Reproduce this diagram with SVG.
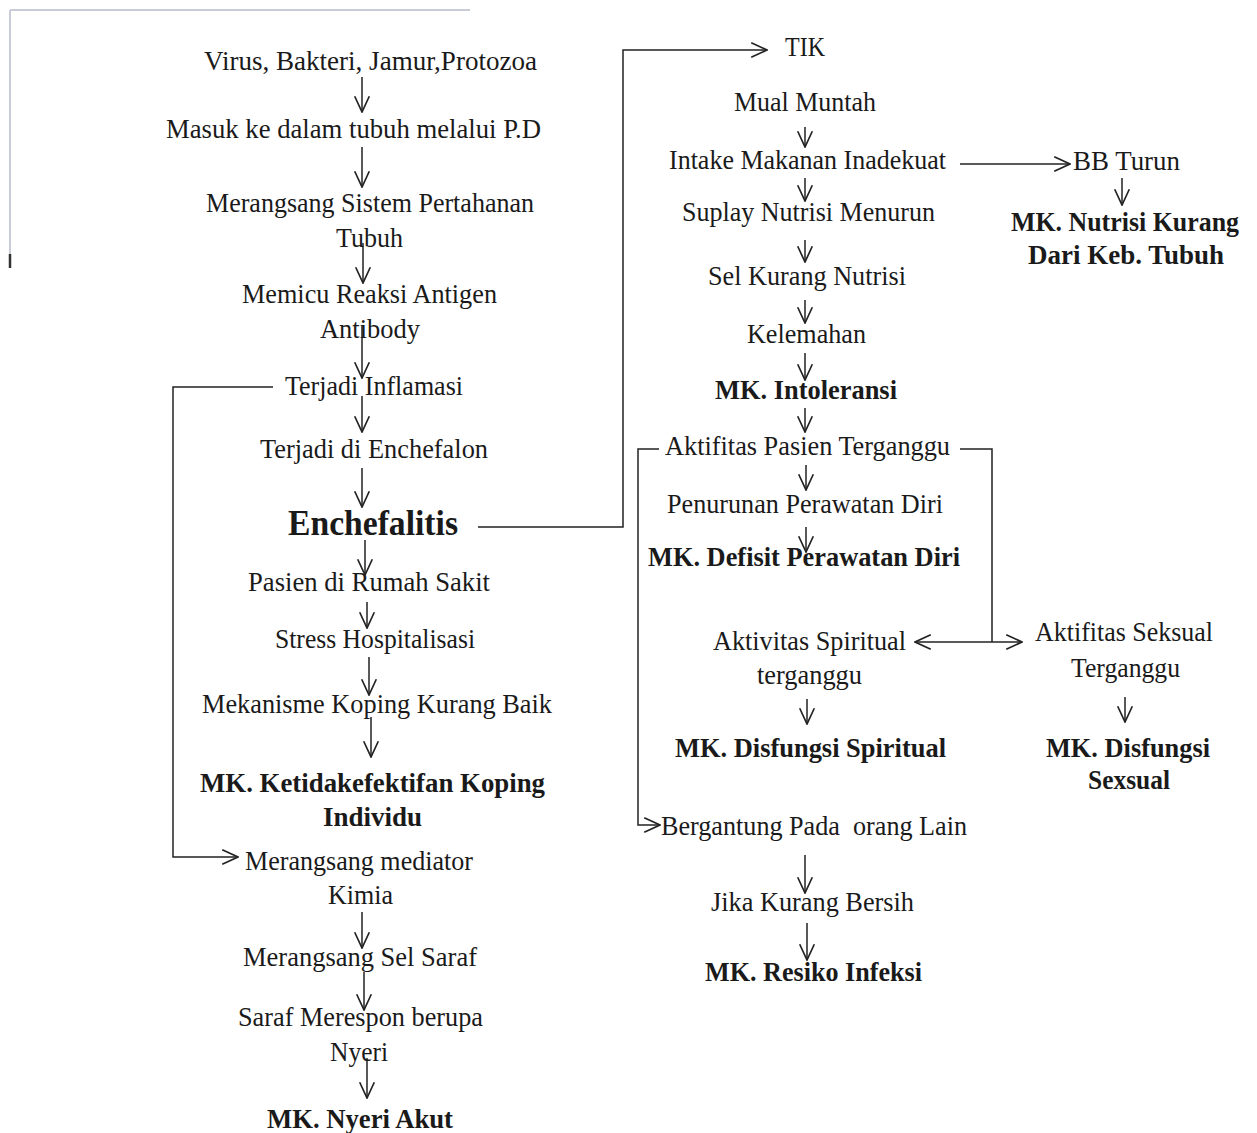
<svg xmlns="http://www.w3.org/2000/svg" width="1257" height="1133" viewBox="0 0 1257 1133">
<defs>
<style>
text{font-family:"Liberation Serif","Times New Roman",serif;font-size:28px;fill:#1a1a1a}
text.b{font-weight:bold;font-size:28px}
text.big{font-weight:bold;font-size:35px}
.c{fill:none;stroke:#222;stroke-width:1.5}
.a{marker-end:url(#ah)}
.d{marker-start:url(#ah);marker-end:url(#ah)}
.frame{fill:none;stroke:#c9ccd8;stroke-width:2}
</style>
<marker id="ah" markerUnits="userSpaceOnUse" markerWidth="18" markerHeight="18" viewBox="0 0 16 16" refX="15" refY="8" orient="auto-start-reverse">
<path d="M1,1.5 L15,8 L1,14.5" fill="none" stroke="#222" stroke-width="1.5"/>
</marker>
</defs>
<rect width="1257" height="1133" fill="#ffffff"/>
<g id="frame">
<path class="frame" d="M10,10 H470 M10,10 V262"/>
<path d="M10,254 V268" stroke="#333" stroke-width="2.5"/>
</g>
<g id="connectors">
<path class="c a" d="M362,77 V112"/>
<path class="c a" d="M362,147 V187"/>
<path class="c a" d="M363,243 V283"/>
<path class="c a" d="M362,326 V378"/>
<path class="c a" d="M362,396 V432"/>
<path class="c a" d="M362,468 V507"/>
<path class="c a" d="M365,540 V575"/>
<path class="c a" d="M367,602 V628"/>
<path class="c a" d="M369,657 V695"/>
<path class="c a" d="M371,717 V757"/>
<path class="c a" d="M273,387 H173 V857 H238"/>
<path class="c a" d="M362,912 V948"/>
<path class="c a" d="M364,972 V1010"/>
<path class="c a" d="M367,1058 V1098"/>
<path class="c a" d="M478,527 H623 V50 H767"/>
<path class="c a" d="M805,127 V147"/>
<path class="c a" d="M805,178 V201"/>
<path class="c a" d="M805,240 V262"/>
<path class="c a" d="M805,300 V323"/>
<path class="c a" d="M805,353 V380"/>
<path class="c a" d="M805,408 V432"/>
<path class="c a" d="M806,465 V490"/>
<path class="c a" d="M806,527 V552"/>
<path class="c a" d="M960,164 H1070"/>
<path class="c a" d="M1122,178 V205"/>
<path class="c a" d="M659,449 H638 V825 H660"/>
<path class="c" d="M960,449 H992 V642"/>
<path class="c d" d="M915,642 H1022"/>
<path class="c a" d="M807,699 V724"/>
<path class="c a" d="M1125,697 V722"/>
<path class="c a" d="M805,855 V893"/>
<path class="c a" d="M807,923 V960"/>
</g>
<g id="n-virus"><text x="204" y="70" textLength="333" lengthAdjust="spacingAndGlyphs">Virus, Bakteri, Jamur,Protozoa</text></g>
<g id="n-masuk"><text x="166" y="138" textLength="375" lengthAdjust="spacingAndGlyphs">Masuk ke dalam tubuh melalui P.D</text></g>
<g id="n-merangsang-sistem"><text x="206" y="212" textLength="328" lengthAdjust="spacingAndGlyphs">Merangsang Sistem Pertahanan</text><text x="336" y="247" textLength="67" lengthAdjust="spacingAndGlyphs">Tubuh</text></g>
<g id="n-memicu"><text x="242" y="303" textLength="255" lengthAdjust="spacingAndGlyphs">Memicu Reaksi Antigen</text><text x="320" y="338" textLength="100" lengthAdjust="spacingAndGlyphs">Antibody</text></g>
<g id="n-inflamasi"><text x="285" y="395" textLength="178" lengthAdjust="spacingAndGlyphs">Terjadi Inflamasi</text></g>
<g id="n-enchefalon"><text x="260" y="458" textLength="228" lengthAdjust="spacingAndGlyphs">Terjadi di Enchefalon</text></g>
<g id="n-enchefalitis"><text class="big" x="288" y="535" textLength="170" lengthAdjust="spacingAndGlyphs">Enchefalitis</text></g>
<g id="n-pasien"><text x="248" y="591" textLength="242" lengthAdjust="spacingAndGlyphs">Pasien di Rumah Sakit</text></g>
<g id="n-stress"><text x="275" y="648" textLength="200" lengthAdjust="spacingAndGlyphs">Stress Hospitalisasi</text></g>
<g id="n-mekanisme"><text x="202" y="713" textLength="350" lengthAdjust="spacingAndGlyphs">Mekanisme Koping Kurang Baik</text></g>
<g id="n-mk-koping"><text class="b" x="200" y="792" textLength="345" lengthAdjust="spacingAndGlyphs">MK. Ketidakefektifan Koping</text><text class="b" x="323" y="826" textLength="99" lengthAdjust="spacingAndGlyphs">Individu</text></g>
<g id="n-mediator"><text x="245" y="870" textLength="228" lengthAdjust="spacingAndGlyphs">Merangsang mediator</text><text x="328" y="904" textLength="65" lengthAdjust="spacingAndGlyphs">Kimia</text></g>
<g id="n-sel-saraf"><text x="243" y="966" textLength="234" lengthAdjust="spacingAndGlyphs">Merangsang Sel Saraf</text></g>
<g id="n-saraf-merespon"><text x="238" y="1026" textLength="245" lengthAdjust="spacingAndGlyphs">Saraf Merespon berupa</text><text x="330" y="1061" textLength="58" lengthAdjust="spacingAndGlyphs">Nyeri</text></g>
<g id="n-mk-nyeri"><text class="b" x="267" y="1128" textLength="186" lengthAdjust="spacingAndGlyphs">MK. Nyeri Akut</text></g>
<g id="n-tik"><text x="785" y="56" textLength="40" lengthAdjust="spacingAndGlyphs">TIK</text></g>
<g id="n-mual"><text x="734" y="111" textLength="142" lengthAdjust="spacingAndGlyphs">Mual Muntah</text></g>
<g id="n-intake"><text x="669" y="169" textLength="277" lengthAdjust="spacingAndGlyphs">Intake Makanan Inadekuat</text></g>
<g id="n-bb"><text x="1073" y="170" textLength="107" lengthAdjust="spacingAndGlyphs">BB Turun</text></g>
<g id="n-mk-nutrisi"><text class="b" x="1011" y="231" textLength="228" lengthAdjust="spacingAndGlyphs">MK. Nutrisi Kurang</text><text class="b" x="1028" y="264" textLength="196" lengthAdjust="spacingAndGlyphs">Dari Keb. Tubuh</text></g>
<g id="n-suplay"><text x="682" y="221" textLength="253" lengthAdjust="spacingAndGlyphs">Suplay Nutrisi Menurun</text></g>
<g id="n-sel"><text x="708" y="285" textLength="198" lengthAdjust="spacingAndGlyphs">Sel Kurang Nutrisi</text></g>
<g id="n-kelemahan"><text x="747" y="343" textLength="119" lengthAdjust="spacingAndGlyphs">Kelemahan</text></g>
<g id="n-mk-intoleransi"><text class="b" x="715" y="399" textLength="182" lengthAdjust="spacingAndGlyphs">MK. Intoleransi</text></g>
<g id="n-aktifitas"><text x="665" y="455" textLength="285" lengthAdjust="spacingAndGlyphs">Aktifitas Pasien Terganggu</text></g>
<g id="n-penurunan"><text x="667" y="513" textLength="276" lengthAdjust="spacingAndGlyphs">Penurunan Perawatan Diri</text></g>
<g id="n-mk-defisit"><text class="b" x="648" y="566" textLength="312" lengthAdjust="spacingAndGlyphs">MK. Defisit Perawatan Diri</text></g>
<g id="n-spiritual"><text x="713" y="650" textLength="193" lengthAdjust="spacingAndGlyphs">Aktivitas Spiritual</text><text x="757" y="684" textLength="105" lengthAdjust="spacingAndGlyphs">terganggu</text></g>
<g id="n-mk-spiritual"><text class="b" x="675" y="757" textLength="271" lengthAdjust="spacingAndGlyphs">MK. Disfungsi Spiritual</text></g>
<g id="n-seksual"><text x="1035" y="641" textLength="178" lengthAdjust="spacingAndGlyphs">Aktifitas Seksual</text><text x="1071" y="677" textLength="109" lengthAdjust="spacingAndGlyphs">Terganggu</text></g>
<g id="n-mk-seksual"><text class="b" x="1046" y="757" textLength="164" lengthAdjust="spacingAndGlyphs">MK. Disfungsi</text><text class="b" x="1088" y="789" textLength="82" lengthAdjust="spacingAndGlyphs">Sexsual</text></g>
<g id="n-bergantung"><text x="661" y="835" textLength="306" lengthAdjust="spacingAndGlyphs" xml:space="preserve">Bergantung Pada  orang Lain</text></g>
<g id="n-jika"><text x="711" y="911" textLength="203" lengthAdjust="spacingAndGlyphs">Jika Kurang Bersih</text></g>
<g id="n-mk-resiko"><text class="b" x="705" y="981" textLength="217" lengthAdjust="spacingAndGlyphs">MK. Resiko Infeksi</text></g>
</svg>
